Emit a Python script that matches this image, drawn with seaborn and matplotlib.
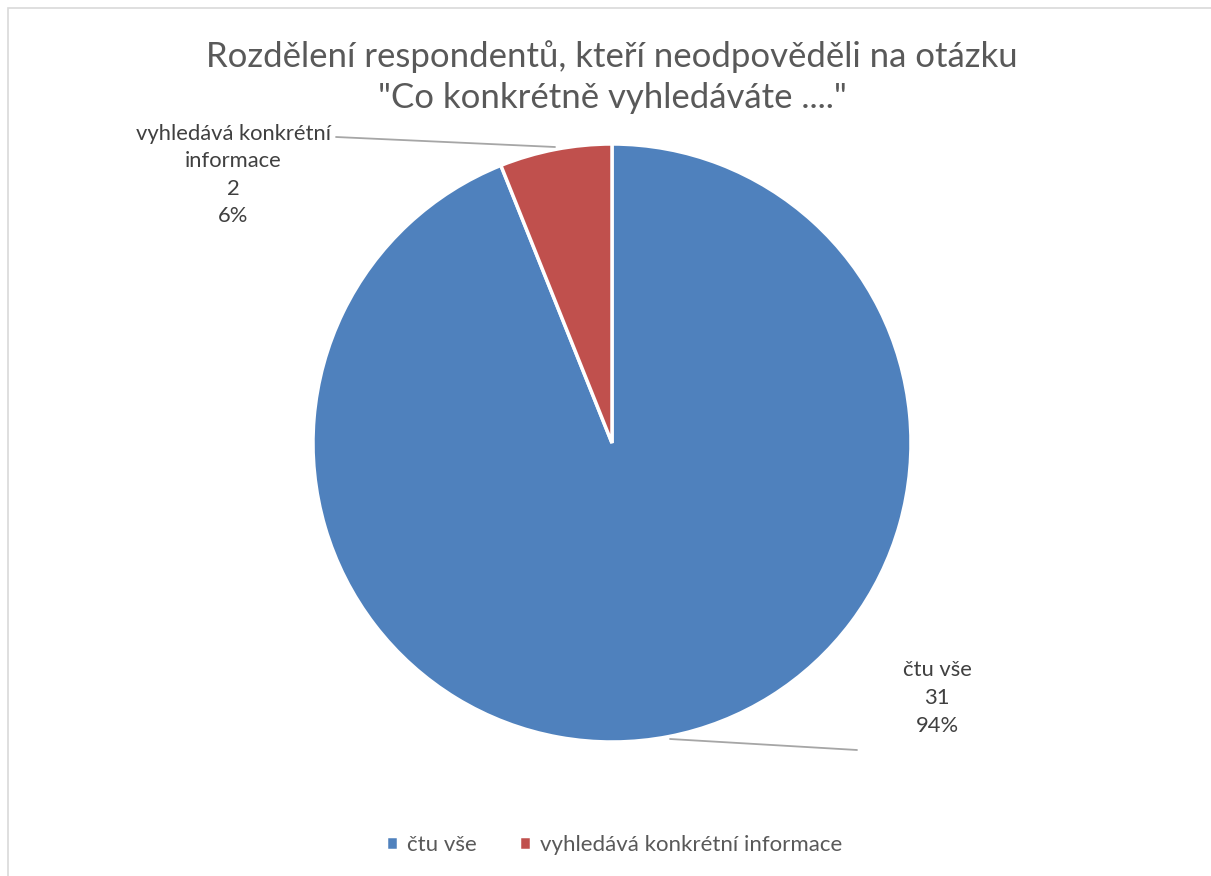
import matplotlib
matplotlib.use("Agg")
from matplotlib import pyplot as plt
from matplotlib.patches import Rectangle
import seaborn as sns

# data
categories = ["čtu vše", "vyhledává konkrétní informace"]
counts = [31, 2]
percents = ["94%", "6%"]
label_names = ["čtu vše", "vyhledává konkrétní\ninformace"]
colors = ["#4F81BD", "#C0504D"]

title = 'Rozdělení respondentů, kteří neodpověděli na otázku\n"Co konkrétně vyhledáváte ...."'

sns.set_theme(style="white")
plt.rcParams["font.family"] = ["Lato", "DejaVu Sans"]

W, H = 1211, 876
fig = plt.figure(figsize=(W / 100, H / 100), dpi=100)

# light chart frame (right/bottom edges cut off in the original)
fig.patches.append(Rectangle((8 / W, -0.1), 1.2, 1 - 8 / H + 0.1,
                             transform=fig.transFigure, fill=False,
                             edgecolor="#D9D9D9", linewidth=1.2))

cx, cy, r = 612, 443, 299
ax = fig.add_axes([(cx - r) / W, (H - cy - r) / H, 2 * r / W, 2 * r / H])
wedges, _ = ax.pie(counts, colors=colors, startangle=90, counterclock=False,
                   wedgeprops=dict(edgecolor="white", linewidth=2.5))
ax.set_xlim(-1, 1)
ax.set_ylim(-1, 1)
ax.set_aspect("equal")
ax.axis("off")


def px(x, y):
    return x / W, 1 - y / H


txt = "#404040"
# data labels with leader lines
fig.add_artist(plt.Line2D([px(670, 739)[0], px(857, 750)[0]],
                          [px(670, 739)[1], px(857, 750)[1]],
                          color="#A6A6A6", linewidth=1.3))
fig.text(*px(937, 698), f"{label_names[0]}\n{counts[0]}\n{percents[0]}",
         ha="center", va="center", fontsize=15.8, color=txt, linespacing=1.5)

fig.add_artist(plt.Line2D([px(336, 137)[0], px(555, 147)[0]],
                          [px(336, 137)[1], px(555, 147)[1]],
                          color="#A6A6A6", linewidth=1.3))
fig.text(*px(233, 175), f"{label_names[1]}\n{counts[1]}\n{percents[1]}",
         ha="center", va="center", fontsize=15.8, color=txt, linespacing=1.45)

fig.text(*px(612, 77), title, ha="center", va="center", fontsize=25,
         color="#595959", linespacing=1.33)

leg = fig.legend(wedges, categories, loc="center", bbox_to_anchor=px(614, 845),
                 ncol=2, frameon=False, fontsize=16, handlelength=0.55,
                 handleheight=0.55, handletextpad=0.4, columnspacing=1.9,
                 labelcolor="#595959")

fig.savefig("out.png", dpi=100)
